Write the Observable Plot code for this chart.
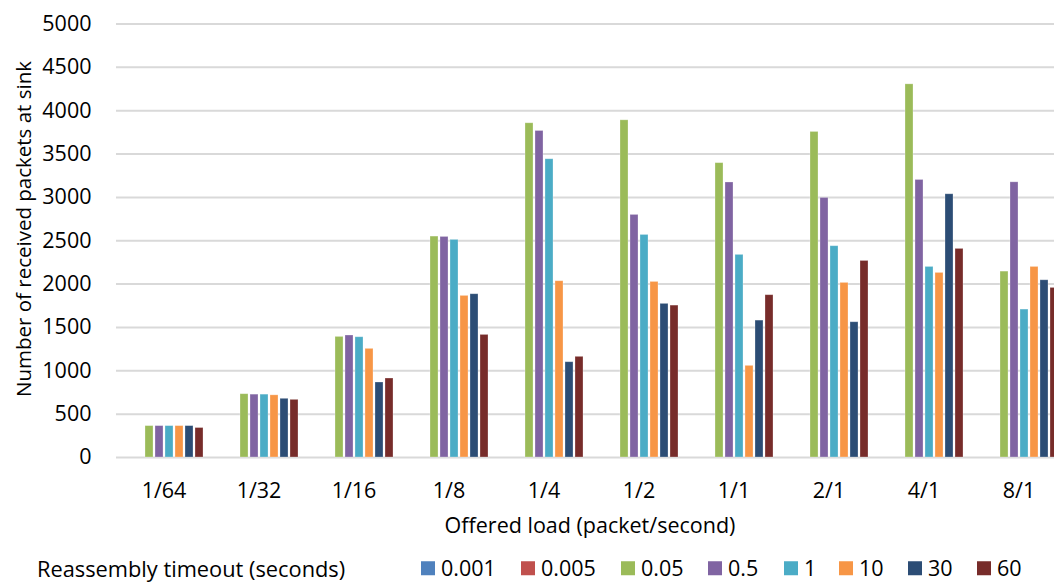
<!DOCTYPE html>
<html>
<head>
<meta charset="utf-8">
<script src="https://cdn.jsdelivr.net/npm/d3@7"></script>
<script src="https://cdn.jsdelivr.net/npm/@observablehq/plot@0.6"></script>
<style>
  html, body { margin: 0; padding: 0; background: #fff; overflow: hidden; }
  #wrap { position: relative; width: 1054px; height: 584px; overflow: hidden; font-family: "Open Sans", sans-serif; color: #000; }
  #chart { position: absolute; left: 0; top: 0; width: 1066px; }
  #chart svg { max-width: none !important; }
  .ttl { position: absolute; white-space: nowrap; font-size: 21.5px; line-height: 1; }
  .leg { position: absolute; top: 568px; transform: translate(0,-50%); display: flex; align-items: center; font-size: 21.5px; line-height: 1; white-space: nowrap; }
  .sw { display: inline-block; width: 14px; height: 14px; margin-right: 6px; }
</style>
</head>
<body>
<div id="wrap">
  <div id="chart"></div>
  <div class="ttl" id="ytitle" style="left:23px; top:229px; font-size:20.5px; transform: translate(-50%,-50%) rotate(-90deg);"></div>
  <div class="ttl" id="xtitle" style="left:590px; top:525px; transform: translate(-50%,-50%);"></div>
  <div class="ttl" id="legtitle" style="left:37px; top:569px; font-size:21.8px; transform: translate(0,-50%);"></div>
  <div id="legend"></div>
</div>
<script>
const categories = ["1/64", "1/32", "1/16", "1/8", "1/4", "1/2", "1/1", "2/1", "4/1", "8/1"];
const seriesNames = ["0.001", "0.005", "0.05", "0.5", "1", "10", "30", "60"];
const seriesColors = ["#4F81BD", "#C0504D", "#9BBB59", "#8064A2", "#4BACC6", "#F79646", "#2C4D75", "#772C2A"];

const s0_001 = [0, 0, 0, 0, 0, 0, 0, 0, 0, 0];
const s0_005 = [0, 0, 0, 0, 0, 0, 0, 0, 0, 0];
const s0_05  = [362, 730, 1391, 2548, 3855, 3889, 3395, 3755, 4304, 2144];
const s0_5   = [362, 725, 1407, 2544, 3766, 2798, 3172, 2994, 3201, 3174];
const s1     = [362, 725, 1387, 2510, 3440, 2567, 2337, 2437, 2198, 1706];
const s10    = [362, 717, 1253, 1864, 2033, 2025, 1057, 2014, 2129, 2198];
const s30    = [362, 677,  865, 1883, 1099, 1772, 1579, 1560, 3036, 2044];
const s60    = [340, 665,  911, 1414, 1161, 1752, 1872, 2267, 2406, 1956];

const yTicks = [0, 500, 1000, 1500, 2000, 2500, 3000, 3500, 4000, 4500, 5000];
const yTitle = "Number of received packets at sink";
const xTitle = "Offered load (packet/second)";
const legendTitle = "Reassembly timeout (seconds)";

const seriesValues = [s0_001, s0_005, s0_05, s0_5, s1, s10, s30, s60];
const data = [];
categories.forEach((c, i) => {
  seriesNames.forEach((s, j) => {
    data.push({cat: c, series: s, value: seriesValues[j][i]});
  });
});

const chart = Plot.plot({
  width: 1066,
  height: 545,
  marginLeft: 116,
  marginRight: 0,
  marginTop: 23.5,
  marginBottom: 88,
  style: {fontFamily: "Open Sans, sans-serif", fontSize: "21.5px", color: "#000", background: "transparent", overflow: "visible", maxWidth: "none"},
  fx: {domain: categories, padding: 0, axis: "bottom", tickSize: 0, tickPadding: 25, label: null},
  x: {domain: seriesNames, axis: null, paddingInner: 0.2, paddingOuter: 0.85},
  y: {domain: [0, 5000], ticks: yTicks, tickSize: 0, tickPadding: 25, label: null, tickFormat: d => String(d)},
  color: {domain: seriesNames, range: seriesColors},
  marks: [
    Plot.gridY(yTicks, {stroke: "#d9d9d9", strokeOpacity: 1, strokeWidth: 2}),
    Plot.barY(data, {fx: "cat", x: "series", y: "value", fill: "series", stroke: "white", strokeOpacity: 0.35, strokeWidth: 0.8})
  ]
});
document.getElementById("chart").appendChild(chart);

document.getElementById("ytitle").textContent = yTitle;
document.getElementById("xtitle").textContent = xTitle;
document.getElementById("legtitle").textContent = legendTitle;

const legendX = [421, 521, 621, 708, 784, 839, 908, 977];
const legend = document.getElementById("legend");
seriesNames.forEach((s, j) => {
  const item = document.createElement("div");
  item.className = "leg";
  item.style.left = legendX[j] + "px";
  const sw = document.createElement("span");
  sw.className = "sw";
  sw.style.background = seriesColors[j];
  const t = document.createElement("span");
  t.textContent = s;
  item.appendChild(sw);
  item.appendChild(t);
  legend.appendChild(item);
});
</script>
</body>
</html>
